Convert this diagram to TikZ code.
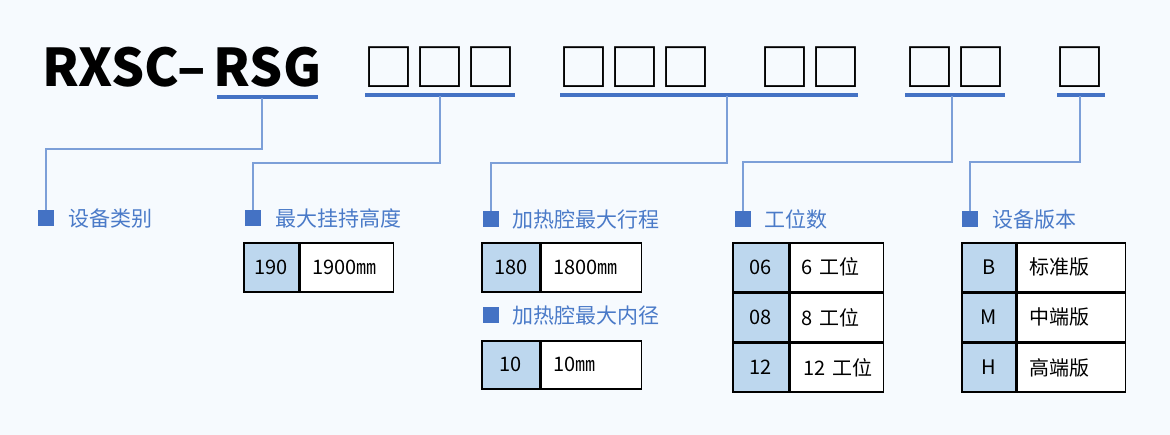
\documentclass[tikz,border=0pt]{standalone}
\usepackage{fontspec}
\setmainfont{Noto Sans CJK SC}
\usepackage{tikz}
\usetikzlibrary{positioning}

\definecolor{bgblue}{HTML}{F6FAFE}
\definecolor{markblue}{HTML}{4472C4}
\definecolor{lblblue}{HTML}{4A7AC8}
\definecolor{lineblue}{HTML}{7C9FD8}
\definecolor{keyblue}{HTML}{BDD7EE}

\begin{document}
\begin{tikzpicture}[x=1pt,y=-1pt,
    title/.style={inner sep=0pt, font=\fontsize{52}{52}\selectfont\bfseries},
    boxes/.style={inner sep=0pt, font=\fontsize{51}{51}\selectfont},
    uline/.style={draw=markblue, line width=4pt},
    conn/.style={draw=lineblue, line width=1.5pt},
    marker/.style={fill=markblue, minimum size=16pt, inner sep=0pt},
    lbl/.style={anchor=west, inner sep=0pt, text=lblblue, font=\fontsize{21}{21}\selectfont},
    keycell/.style={draw=black, line width=1.6pt, fill=keyblue, anchor=north west, inner sep=0pt,
      minimum height=49pt, font=\fontsize{20}{20}\selectfont},
    valcell/.style={draw=black, line width=1.6pt, fill=white, anchor=north west, inner xsep=12pt, inner ysep=0pt,
      minimum height=49pt, align=left, font=\fontsize{20}{20}\selectfont}]
    \useasboundingbox (0,0) rectangle (1170,435);
    \fill[bgblue] (0,0) rectangle (1170,435);

    % code line
    \node[title, anchor=base west] (rxsc) at (42,87) {RXSC–};
    \node[title, anchor=base] (rsg) at (267.5,87) {RSG};
    \node[boxes, anchor=base] (g1) at (440,87) {□□□};
    \node[boxes, anchor=base] (g2a) at (635,87) {□□□};
    \node[boxes, anchor=base] (g2b) at (810,87) {□□};
    \node[boxes, anchor=base] (g3) at (955,87) {□□};
    \node[boxes, anchor=base] (g4) at (1080,87) {□};

    \draw[uline] (217,97) -- (318,97);
    \draw[uline] (365,95) -- (515,95);
    \draw[uline] (560,95) -- (858,95);
    \draw[uline] (905,95) -- (1005,95);
    \draw[uline] (1057,95) -- (1105,95);

    \coordinate (u1) at (262,98);
    \coordinate (u2) at (440,96);
    \coordinate (u3) at (727,96);
    \coordinate (u4) at (952,96);
    \coordinate (u5) at (1080,96);

    % markers and labels
    \node[marker] (m1) at (46,218.5) {};
    \node[marker] (m2) at (253,218.5) {};
    \node[marker] (m3) at (491,219.5) {};
    \node[marker] (m4) at (491,315.5) {};
    \node[marker] (m5) at (743,219.5) {};
    \node[marker] (m6) at (970,219.5) {};

    \node[lbl] (l1) at (68,218.5) {设备类别};
    \node[lbl] (l2) at (275,218.5) {最大挂持高度};
    \node[lbl] (l3) at (512,219.5) {加热腔最大行程};
    \node[lbl] (l4) at (512,315.5) {加热腔最大内径};
    \node[lbl] (l5) at (764,219.5) {工位数};
    \node[lbl] (l6) at (992,219.5) {设备版本};

    \draw[conn] (u1) -- ++(0,51) -| (m1.north);
    \draw[conn] (u2) -- ++(0,67) -| (m2.north);
    \draw[conn] (u3) -- ++(0,67) -| (m3.north);
    \draw[conn] (u4) -- ++(0,66) -| (m5.north);
    \draw[conn] (u5) -- ++(0,66) -| (m6.north);

    % tables
    \node[keycell, minimum width=55pt] (k1) at (243,242) {190};
    \node[valcell, minimum width=93pt, text width=69pt] (v1) at (k1.north east) {1900㎜};

    \node[keycell, minimum width=58pt] (k2) at (481,242) {180};
    \node[valcell, minimum width=100pt, text width=76pt] (v2) at (k2.north east) {1800㎜};

    \node[keycell, minimum width=58pt, minimum height=48pt] (k3) at (481,340) {10};
    \node[valcell, minimum width=100pt, text width=76pt, minimum height=48pt] (v3) at (k3.north east) {10㎜};

    \node[keycell, minimum width=56pt] (k4) at (732,242) {06};
    \node[valcell, minimum width=93pt, text width=71pt, inner xsep=11pt] (v4) at (k4.north east) {\mbox{6 工位}};
    \node[keycell, minimum width=56pt, minimum height=48pt] (k5) at (k4.south west) {08};
    \node[valcell, minimum width=93pt, text width=71pt, inner xsep=11pt, minimum height=48pt] (v5) at (k5.north east) {\mbox{8 工位}};
    \node[keycell, minimum width=56pt] (k6) at (k5.south west) {12};
    \node[valcell, minimum width=93pt, text width=71pt, inner xsep=11pt] (v6) at (k6.north east) {\mbox{\kern2pt 12 工位}};

    \node[keycell, minimum width=54pt] (k7) at (961,242) {B};
    \node[valcell, minimum width=108pt, text width=84pt] (v7) at (k7.north east) {标准版};
    \node[keycell, minimum width=54pt, minimum height=48pt] (k8) at (k7.south west) {M};
    \node[valcell, minimum width=108pt, text width=84pt, minimum height=48pt] (v8) at (k8.north east) {中端版};
    \node[keycell, minimum width=54pt] (k9) at (k8.south west) {H};
    \node[valcell, minimum width=108pt, text width=84pt] (v9) at (k9.north east) {高端版};
\end{tikzpicture}
\end{document}
